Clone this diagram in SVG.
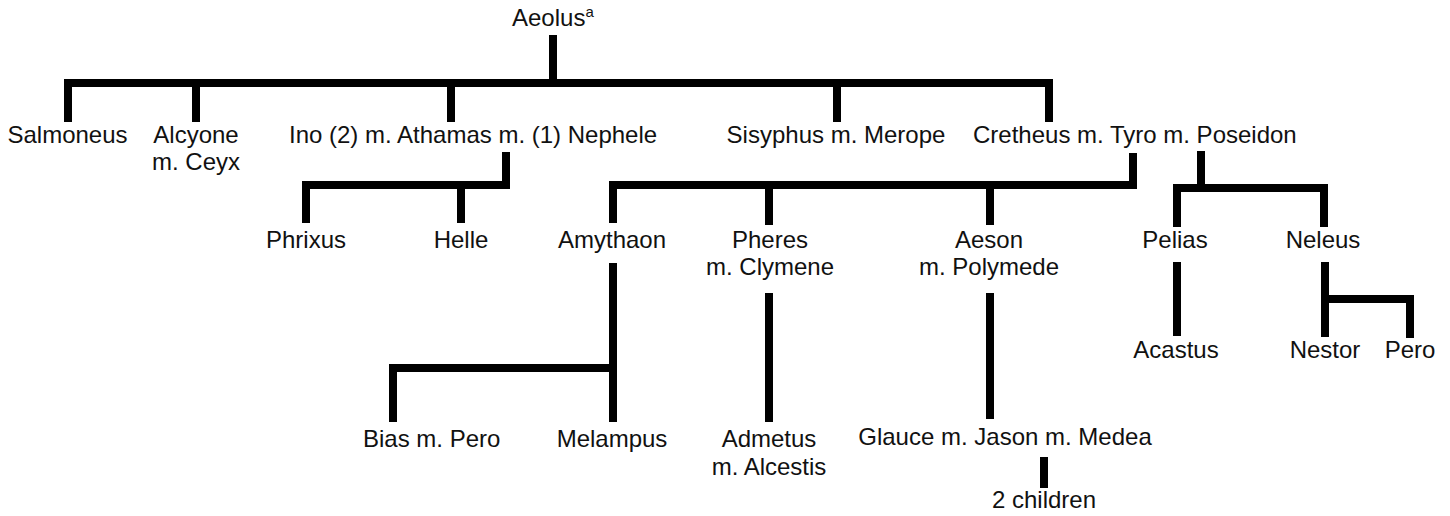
<svg xmlns="http://www.w3.org/2000/svg" width="1450" height="516" viewBox="0 0 1450 516">
<style>
  .t { font-family: "Liberation Sans", Arial, Helvetica, sans-serif; font-size: 24px; fill: #111; }
  .c { text-anchor: middle; }
  .ln { fill: none; stroke: #000; stroke-width: 8; stroke-linejoin: miter; stroke-linecap: butt; }
</style>
<rect width="1450" height="516" fill="#fff"/>
<g id="connectors">
  <path class="ln" d="M553 35 V83"/>
  <path class="ln" d="M68 122 V83 H1049 V122"/>
  <path class="ln" d="M196 83 V122 M451 83 V122 M837 83 V122"/>
  <path class="ln" d="M506 152 V185 H306 V223 M461 185 V223"/>
  <path class="ln" d="M1133 153 V185 H613 V223 M769 185 V225 M990 185 V225"/>
  <path class="ln" d="M1177 227 V188 H1324 V227 M1201 151 V188"/>
  <path class="ln" d="M613 263 V422 M613 368 H393 V422"/>
  <path class="ln" d="M769 293 V422"/>
  <path class="ln" d="M990 293 V419"/>
  <path class="ln" d="M1044 457 V488"/>
  <path class="ln" d="M1177 262 V336"/>
  <path class="ln" d="M1325 262 V337 M1325 299 H1410 V338"/>
</g>
<g id="aeolus"><text class="t" x="512" y="26">Aeolus<tspan font-size="15" dy="-9">a</tspan></text></g>
<g id="salmoneus"><text class="t c" x="67.5" y="143">Salmoneus</text></g>
<g id="alcyone"><text class="t c" x="196" y="143">Alcyone</text><text class="t c" x="196" y="170">m. Ceyx</text></g>
<g id="athamas"><text class="t" x="289" y="143">Ino (2) m. Athamas m. (1) Nephele</text></g>
<g id="sisyphus"><text class="t c" x="836" y="143">Sisyphus m. Merope</text></g>
<g id="cretheus"><text class="t" x="973" y="143">Cretheus m. Tyro m. Poseidon</text></g>
<g id="phrixus"><text class="t c" x="306" y="248">Phrixus</text></g>
<g id="helle"><text class="t c" x="461" y="248">Helle</text></g>
<g id="amythaon"><text class="t c" x="612" y="248">Amythaon</text></g>
<g id="pheres"><text class="t c" x="770" y="248">Pheres</text><text class="t c" x="770" y="275">m. Clymene</text></g>
<g id="aeson"><text class="t c" x="989" y="248">Aeson</text><text class="t c" x="989" y="275">m. Polymede</text></g>
<g id="pelias"><text class="t c" x="1175" y="248">Pelias</text></g>
<g id="neleus"><text class="t c" x="1323" y="248">Neleus</text></g>
<g id="acastus"><text class="t c" x="1176" y="358">Acastus</text></g>
<g id="nestor"><text class="t c" x="1325" y="358">Nestor</text></g>
<g id="pero"><text class="t c" x="1410" y="358">Pero</text></g>
<g id="bias"><text class="t" x="363" y="447">Bias m. Pero</text></g>
<g id="melampus"><text class="t c" x="612" y="447">Melampus</text></g>
<g id="admetus"><text class="t c" x="769" y="447">Admetus</text><text class="t c" x="769" y="475">m. Alcestis</text></g>
<g id="jason"><text class="t c" x="1005" y="445">Glauce m. Jason m. Medea</text></g>
<g id="children"><text class="t c" x="1044" y="508">2 children</text></g>
</svg>
